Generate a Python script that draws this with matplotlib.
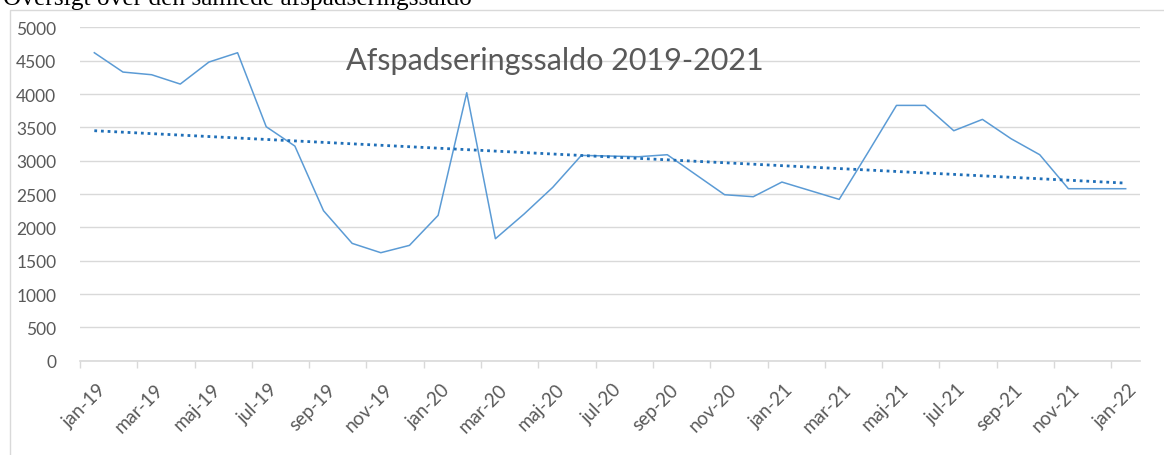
import numpy as np
import matplotlib
matplotlib.use("Agg")
import matplotlib.pyplot as plt
from matplotlib.patches import Rectangle

# ---- data ----
months = ["jan-19", "feb-19", "mar-19", "apr-19", "maj-19", "jun-19", "jul-19", "aug-19",
          "sep-19", "okt-19", "nov-19", "dec-19",
          "jan-20", "feb-20", "mar-20", "apr-20", "maj-20", "jun-20", "jul-20", "aug-20",
          "sep-20", "okt-20", "nov-20", "dec-20",
          "jan-21", "feb-21", "mar-21", "apr-21", "maj-21", "jun-21", "jul-21", "aug-21",
          "sep-21", "okt-21", "nov-21", "dec-21",
          "jan-22"]
saldo = [4620, 4330, 4290, 4150, 4480, 4620, 3510, 3220, 2250, 1760, 1620, 1730,
         2180, 4020, 1830, 2200, 2600, 3080, 3070, 3060, 3090, 2790, 2490, 2460,
         2680, 2550, 2420, 3120, 3830, 3830, 3450, 3620, 3330, 3090, 2580, 2580,
         2580]
yticks = [0, 500, 1000, 1500, 2000, 2500, 3000, 3500, 4000, 4500, 5000]
chart_title = "Afspadseringssaldo 2019-2021"
doc_heading = "Oversigt over den samlede afspadseringssaldo"

W, H = 1164, 456
fig = plt.figure(figsize=(W / 100, H / 100), dpi=100)
fig.patch.set_facecolor("white")

# chart border (extends beyond right/bottom edge)
fig.patches.append(Rectangle((10 / W, -0.1), 1.2, 1 - 10.5 / H + 0.1,
                             transform=fig.transFigure, fill=False,
                             edgecolor="#d9d9d9", linewidth=1.0))

# cut-off document heading above the chart
fig.text(3 / W, 1 - 4.5 / H, doc_heading, family="Liberation Serif",
         fontsize=18.3, color="black", va="baseline", ha="left")

left, right = 80, 1140
top, bottom = 28.4, 361.7
ax = fig.add_axes([left / W, 1 - bottom / H, (right - left) / W, (bottom - top) / H])

x = np.arange(len(saldo))
ax.plot(x, saldo, color="#5B9BD5", linewidth=1.1, zorder=3)

# linear trend line
coef = np.polyfit(x, saldo, 1)
ax.plot(x, np.polyval(coef, x), color="#1F6FB8", linewidth=2.0,
        linestyle=(0, (1, 1.4)), zorder=4)

ax.set_xlim(-0.5, len(saldo) - 0.5)
ax.set_ylim(0, 5000)

ax.set_yticks(yticks)
ax.set_yticklabels([str(v) for v in yticks])
ax.tick_params(axis="y", length=0, pad=17, labelsize=12.5, labelcolor="#595959")
for lab in ax.get_yticklabels():
    lab.set_family("Lato")

ax.yaxis.grid(True, color="#d9d9d9", linewidth=1.0)
ax.set_axisbelow(True)
for s in ["left", "right", "top"]:
    ax.spines[s].set_visible(False)
ax.spines["bottom"].set_color("#d9d9d9")
ax.spines["bottom"].set_linewidth(1.2)

# tick marks at month boundaries, labels at every other month centre
ax.set_xticks(np.arange(-0.5, len(saldo) - 0.5, 2), minor=True)
ax.tick_params(axis="x", which="minor", length=5, color="#d9d9d9", width=1.0)
ax.set_xticks(x[::2] + 0.1)
ax.set_xticklabels([months[i] for i in x[::2]], rotation=45, ha="right",
                   rotation_mode="anchor", family="Lato")
ax.tick_params(axis="x", which="major", length=0, pad=14, labelsize=13.5,
               labelcolor="#595959")

fig.text(555 / W, 1 - 61 / H, chart_title, family="Lato", fontsize=22,
         color="#595959", ha="center", va="center")

fig.savefig("out.png", dpi=100, facecolor="white")
